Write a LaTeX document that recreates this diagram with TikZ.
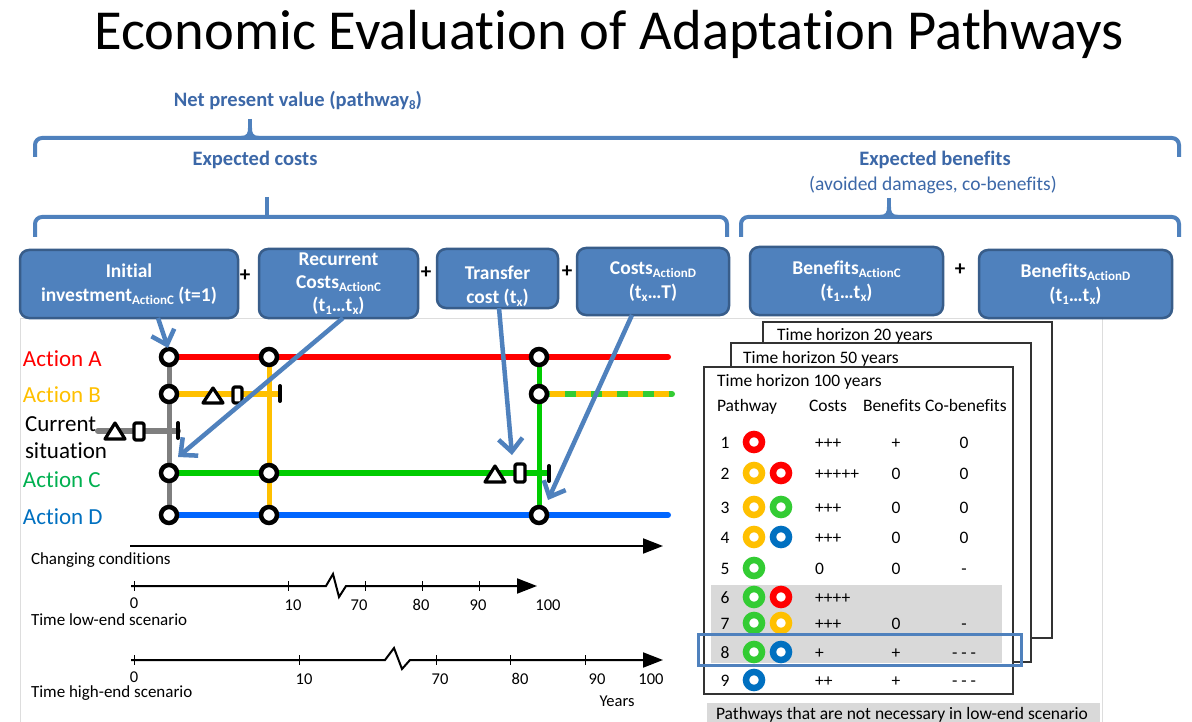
\documentclass[tikz,border=0pt]{standalone}
\usepackage{fontspec}
\setmainfont[Ligatures=NoCommon]{Carlito}
\usetikzlibrary{arrows.meta,calc}
\definecolor{bxfill}{HTML}{4F81BD}
\definecolor{bxline}{HTML}{385D8A}
\definecolor{hdblue}{HTML}{3C68A8}
\definecolor{cRed}{HTML}{FF0000}
\definecolor{cYel}{HTML}{FFC000}
\definecolor{cGre}{HTML}{00CC00}
\definecolor{cBlu}{HTML}{0066FF}
\definecolor{cGry}{HTML}{7F7F7F}
\definecolor{tGre}{HTML}{33CC33}
\definecolor{tBlu}{HTML}{0070C0}
\definecolor{lGre}{HTML}{00B050}
\definecolor{shadeg}{HTML}{D9D9D9}
\definecolor{frameg}{HTML}{DDDDDD}
\newcommand{\myfs}[1]{\fontsize{#1}{#1}\selectfont}
\newcommand{\mysub}[1]{\raisebox{-0.35ex}{\myfs{13}#1}}
\tikzset{
 costbox/.style={rounded corners=9pt, fill=bxfill, draw=bxline, line width=2.5pt, text=white, font=\bfseries\fontsize{19.5}{24}\selectfont, align=center, inner sep=0pt},
 boxtext/.style={text=white, font=\bfseries\fontsize{19.5}{24}\selectfont, align=center},
 plus/.style={font=\bfseries\fontsize{21}{21}\selectfont, yshift=-3pt},
 hdlabel/.style={text=hdblue, font=\bfseries\fontsize{20.5}{24}\selectfont, yshift=-4pt},
 brace/.style={draw=bxfill, line width=4pt, rounded corners=7pt},
 stem/.style={draw=bxfill, line width=4pt},
 actlabel/.style={font=\fontsize{23}{27}\selectfont, anchor=mid west, yshift=-6pt},
 pline/.style={line width=6pt},
 pc/.style={circle, draw=black, fill=white, line width=4.5pt, minimum size=16pt, inner sep=0pt},
 mk/.style={draw=black, fill=white, line width=3.2pt, line join=round},
 tickm/.style={draw=black, line width=4pt, line cap=round},
 arr/.style={draw=bxfill, line width=4.5pt, -{Straight Barb[length=13pt,width=24pt]}},
 axarr/.style={draw=black, line width=2pt, -{Triangle[length=20pt,width=15pt]}},
 axt/.style={draw=black, line width=1pt},
 axlab/.style={font=\fontsize{16.5}{18}\selectfont, yshift=-4pt},
 tab/.style={font=\fontsize{17.5}{20}\selectfont, yshift=-4pt},
 ring/.style={circle, draw=#1, line width=6.5pt, minimum size=16pt, inner sep=0pt, fill=white},
 hframe/.style={draw=black!80, line width=1.5pt, fill=white},
 every node/.append style={inner sep=0pt, outer sep=0pt}
}
\begin{document}
\begin{tikzpicture}[x=1pt,y=-1pt]
\useasboundingbox (0,0) rectangle (1192,722);
\fill[white] (0,0) rectangle (1192,722);
% faint frame
\draw[draw=frameg, line width=1pt] (20,722) -- (20,318) -- (1102,318) -- (1102,722);
% title
\node[font=\fontsize{56.5}{60}\selectfont, anchor=base] (title) at (609,50) {Economic Evaluation of Adaptation Pathways};
% braces
\draw[brace] (35,157) |- (1179,138) -- (1179,157);
\draw[stem] (250,119) -- (250,134);
\fill[bxfill] (241,136) .. controls (247,136) and (248,133) .. (248,128) -- (252,128) .. controls (252,133) and (253,136) .. (259,136) -- (259,140) -- (241,140) -- cycle;
\draw[brace] (35,237) |- (727,217) -- (727,237);
\draw[stem] (267,197) -- (267,217);
\draw[brace] (741,237) |- (1179,217) -- (1179,237);
\draw[stem] (889,198) -- (889,213);
\fill[bxfill] (880,215) .. controls (886,215) and (887,212) .. (887,207) -- (891,207) .. controls (891,212) and (892,215) .. (898,215) -- (898,219) -- (880,219) -- cycle;
% header labels
\node[hdlabel, anchor=mid] (npv) at (298,100) {Net present value (pathway\mysub{8})};
\node[hdlabel, anchor=mid] (ecost) at (255,159) {Expected costs};
\node[hdlabel, anchor=mid] (eben) at (935,159) {Expected benefits};
\node[text=hdblue, font=\fontsize{19.5}{22}\selectfont, anchor=mid, yshift=-4pt] (avoid) at (933,184) {(avoided damages, co-benefits)};
% boxes
\node[costbox, minimum width=218pt, minimum height=68pt] (box1) at (129,284) {Initial\\investment\mysub{ActionC} (t=1)};
\node[costbox, minimum width=159pt, minimum height=69pt, font=\bfseries\fontsize{19.5}{23}\selectfont] (box2) at (338.5,283.5) {Recurrent\\Costs\mysub{ActionC}\\(t\mysub{1}…t\mysub{x})};
\node[costbox, minimum width=121pt, minimum height=59pt] (box3) at (497.5,278.5) {};
\node[boxtext] (box3t) at (497.5,286) {Transfer\\cost (t\mysub{x})};
\node[costbox, minimum width=152pt, minimum height=67pt] (box4) at (653,281.5) {Costs\mysub{ActionD}\\(t\mysub{x}…T)};
\node[costbox, minimum width=193pt, minimum height=68pt] (box5) at (846.5,281) {Benefits\mysub{ActionC}\\(t\mysub{1}…t\mysub{x})};
\node[costbox, minimum width=193pt, minimum height=68pt] (box6) at (1075.5,284) {Benefits\mysub{ActionD}\\(t\mysub{1}…t\mysub{x})};
\node[plus] (p1) at (245,273) {+};
\node[plus] (p2) at (426,270) {+};
\node[plus] (p3) at (567,269) {+};
\node[plus] (p4) at (960,267) {+};
% action labels
\node[actlabel, text=cRed] (lA) at (23,358) {Action A};
\node[actlabel, text=cYel] (lB) at (23,394) {Action B};
\node[actlabel] (lS1) at (25,423) {Current};
\node[actlabel] (lS2) at (25,450) {situation};
\node[actlabel, text=lGre] (lC) at (23,479) {Action C};
\node[actlabel, text=tBlu] (lD) at (23,516) {Action D};
% pathway coordinates
\coordinate (A1) at (169,357); \coordinate (A2) at (269,357); \coordinate (A3) at (539,357); \coordinate (Aend) at (668,357);
\coordinate (B1) at (169,394); \coordinate (Bend) at (280,394); \coordinate (B3) at (539,394); \coordinate (B3end) at (672,394);
\coordinate (S0) at (98,431); \coordinate (Send) at (178,431);
\coordinate (C1) at (169,473); \coordinate (C2) at (269,473); \coordinate (Cend) at (549,473);
\coordinate (D1) at (169,515); \coordinate (D2) at (269,515); \coordinate (D3) at (539,515); \coordinate (Dend) at (668,515);
% lines
\draw[pline, cGry, line width=5pt] (A1) -- (D1);
\draw[pline, cGry, line cap=round] (S0) -- (Send);
\draw[pline, cYel, line width=5pt] (A2) -- (D2);
\draw[pline, cGre, line width=5pt] (A3) -- (D3);
\draw[pline, cRed, line cap=round] (A1) -- (Aend);
\draw[pline, cYel] (B1) -- (Bend);
\draw[pline, tGre, line cap=round] (B3) -- (B3end);
\draw[pline, cYel, dash pattern=on 15pt off 11pt, dash phase=15pt] (B3) -- (B3end);
\draw[pline, cGre] (C1) -- (Cend);
\draw[pline, cBlu, line cap=round] (D1) -- (Dend);
% markers
\draw[mk] (105,439) -- (115,423) -- (125,439) -- cycle;
\draw[mk, rounded corners=1.5pt] (134,423) rectangle (144,440);
\draw[tickm] (178,423) -- (178,438);
\draw[mk] (203,403) -- (213,388) -- (223,403) -- cycle;
\draw[mk, rounded corners=1.5pt] (233,387) rectangle (242,403);
\draw[tickm] (280,386) -- (280,401);
\draw[mk] (485,482) -- (495,466) -- (505,482) -- cycle;
\draw[mk, rounded corners=1.5pt] (515,464) rectangle (525,482);
\draw[tickm] (549,466) -- (549,481);
% circles
\node[pc] (cA1) at (A1) {};
\node[pc] (cA2) at (A2) {};
\node[pc] (cA3) at (A3) {};
\node[pc] (cB1) at (B1) {};
\node[pc] (cB3) at (B3) {};
\node[pc] (cC1) at (C1) {};
\node[pc] (cC2) at (C2) {};
\node[pc] (cD1) at (D1) {};
\node[pc] (cD2) at (D2) {};
\node[pc] (cD3) at (D3) {};
% arrows
\coordinate (tip1) at (168,348);
\coordinate (tip2) at (178,457);
\coordinate (tip3) at (512,455);
\coordinate (tip4) at (548,500);
\draw[arr] ($(box1.south)+(29,0)$) -- (tip1);
\draw[arr] ($(box2.south)+(4.5,0)$) -- (tip2);
\draw[arr] ($(box3.south)+(1.5,0)$) -- (tip3);
\draw[arr] ($(box4.south)+(-21,0)$) -- (tip4);
% axes
\coordinate (cc0) at (130,546); \coordinate (cc1) at (663,546);
\draw[axarr] (cc0) -- (cc1);
\node[axlab, anchor=mid west, font=\fontsize{17}{18}\selectfont] (cclab) at (31,558) {Changing conditions};
\coordinate (lo0) at (131,586); \coordinate (lo1) at (537,586);
\draw[axarr] (lo0) -- (326,586) -- (333,574) -- (339,597) -- (346,586) -- (lo1);
\foreach \x in {134,288,365,422,479} \draw[axt] (\x,581) -- (\x,591);
\node[axlab, anchor=mid] (lo_0) at (134,602) {0};
\node[axlab, anchor=mid] (lo_10) at (293,604) {10};
\node[axlab, anchor=mid] (lo_70) at (359,604) {70};
\node[axlab, anchor=mid] (lo_80) at (421,604) {80};
\node[axlab, anchor=mid] (lo_90) at (478,604) {90};
\node[axlab, anchor=mid] (lo_100) at (548,604) {100};
\node[axlab, anchor=mid west, font=\fontsize{17}{18}\selectfont] (lolab) at (31,619) {Time low-end scenario};
\coordinate (hi0) at (131,660); \coordinate (hi1) at (663,660);
\draw[axarr] (hi0) -- (385,660) -- (394,648) -- (402,669) -- (410,660) -- (hi1);
\foreach \x in {134,299,436,510,585} \draw[axt] (\x,655) -- (\x,665);
\node[axlab, anchor=mid] (hi_0) at (134,676) {0};
\node[axlab, anchor=mid] (hi_10) at (304,678) {10};
\node[axlab, anchor=mid] (hi_70) at (440,678) {70};
\node[axlab, anchor=mid] (hi_80) at (520,678) {80};
\node[axlab, anchor=mid] (hi_90) at (597,678) {90};
\node[axlab, anchor=mid] (hi_100) at (651,678) {100};
\node[axlab, anchor=mid] (years) at (617,700) {Years};
\node[axlab, anchor=mid west, font=\fontsize{17}{18}\selectfont] (hilab) at (31,691) {Time high-end scenario};
% table frames
\draw[hframe] (763,322) rectangle (1052,638);
\draw[hframe] (731,343) rectangle (1031,662);
\draw[hframe] (704,367) rectangle (1013,694);
\fill[shadeg] (711,585) rectangle (1002,663);
\node[tab, anchor=mid west] (h20) at (777,334) {Time horizon 20 years};
\node[tab, anchor=mid west] (h50) at (743,357) {Time horizon 50 years};
\node[tab, anchor=mid west] (h100) at (717,380) {Time horizon 100 years};
\node[tab, anchor=mid west] (hpw) at (717,405) {Pathway};
\node[tab, anchor=mid west] (hco) at (809,405) {Costs};
\node[tab, anchor=mid west] (hbe) at (863,405) {Benefits};
\node[tab, anchor=mid west] (hcb) at (925,405) {Co-benefits};
% rows: number, first circle colour, costs, benefits, co-benefits
\foreach \i/\y/\ca/\co/\be/\cbn in {
 1/442/cRed/+++/+/0,
 2/473/cYel/+++++/0/0,
 3/507/cYel/+++/0/0,
 4/537/cYel/+++/0/0,
 5/568/tGre/0/0/-,
 6/597/tGre/++++//,
 7/623/tGre/+++/0/-,
 8/652/tGre/+/+/- - -,
 9/680/tBlu/++/+/- - -}{
 \node[tab, anchor=mid] (n\i) at (725,\y) {\i};
 \node[ring=\ca] (ra\i) at (754,\y) {};
 \node[tab, anchor=mid west] (co\i) at (815,\y) {\co};
 \node[tab, anchor=mid] (be\i) at (896,\y) {\be};
 \node[tab, anchor=mid] (cb\i) at (964,\y) {\cbn};
}
\node[ring=cRed] (rb2) at (781,473) {};
\node[ring=tGre] (rb3) at (781,507) {};
\node[ring=tBlu] (rb4) at (781,537) {};
\node[ring=cRed] (rb6) at (781,597) {};
\node[ring=cYel] (rb7) at (781,623) {};
\node[ring=tBlu] (rb8) at (781,652) {};
% highlight
\draw[draw=bxfill, line width=3pt] (698,634) rectangle (1021,665);
% legend
\fill[shadeg] (707,703) rectangle (1100,722);
\node[tab, anchor=mid west] (legend) at (716,713) {Pathways that are not necessary in low-end scenario};
\end{tikzpicture}
\end{document}
